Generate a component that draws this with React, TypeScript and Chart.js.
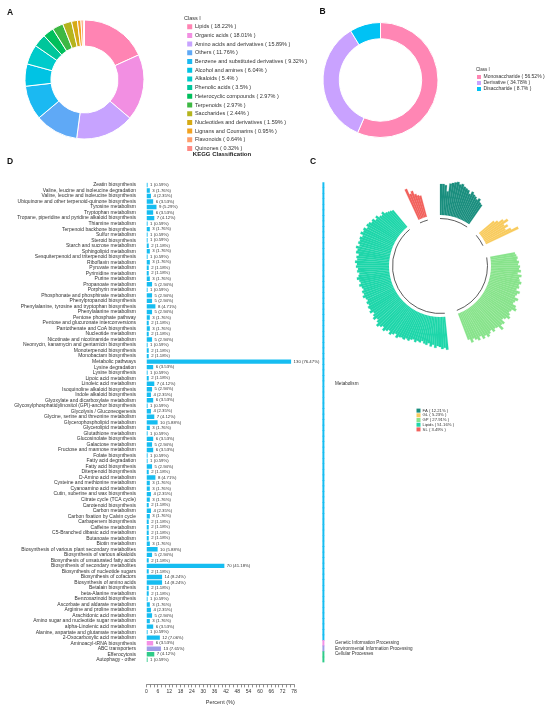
import React, { useEffect, useRef } from 'react';
import { Chart, registerables } from 'chart.js';

Chart.register(...registerables);

const FONT = '"Liberation Sans", Arial, Helvetica, sans-serif';
Chart.defaults.font.family = FONT;
Chart.defaults.color = '#333333';

// ---------------- Panel A : Class I (all metabolites) ----------------
const classALabels = [
  'Lipids', 'Organic acids', 'Amino acids and derivatives', 'Others',
  'Benzene and substituted derivatives', 'Alcohol and amines', 'Alkaloids',
  'Phenolic acids', 'Heterocyclic compounds', 'Terpenoids', 'Saccharides',
  'Nucleotides and derivatives', 'Lignans and Coumarins', 'Flavonoids', 'Quinones',
];
const classAValues = [18.22, 18.01, 15.89, 11.76, 9.32, 6.04, 5.4, 3.5, 2.97, 2.97, 2.44, 1.59, 0.95, 0.64, 0.32];
const classAColors = [
  '#FF84B3', '#F28FE2', '#C7A3FF', '#5FA9F6', '#1BB9F2', '#00C3E4', '#00CBCB',
  '#00C69B', '#00BF5C', '#3DB843', '#B4B41E', '#D6AA14', '#F2A220', '#FF9E6B', '#FF8A84',
];

// ---------------- Panel B : Class I (saccharides) ----------------
const classBLabels = ['Monosaccharide', 'Derivative', 'Disaccharide'];
const classBValues = [56.52, 34.78, 8.7];
const classBColors = ['#FF86B4', '#C9A2FF', '#00C2F4'];

// ---------------- Panel D : KEGG classification ----------------
const keggPathways = [
  'Zeatin biosynthesis',
  'Valine, leucine and isoleucine degradation',
  'Valine, leucine and isoleucine biosynthesis',
  'Ubiquinone and other terpenoid-quinone biosynthesis',
  'Tyrosine metabolism',
  'Tryptophan metabolism',
  'Tropane, piperidine and pyridine alkaloid biosynthesis',
  'Thiamine metabolism',
  'Terpenoid backbone biosynthesis',
  'Sulfur metabolism',
  'Steroid biosynthesis',
  'Starch and sucrose metabolism',
  'Sphingolipid metabolism',
  'Sesquiterpenoid and triterpenoid biosynthesis',
  'Riboflavin metabolism',
  'Pyruvate metabolism',
  'Pyrimidine metabolism',
  'Purine metabolism',
  'Propanoate metabolism',
  'Porphyrin metabolism',
  'Phosphonate and phosphinate metabolism',
  'Phenylpropanoid biosynthesis',
  'Phenylalanine, tyrosine and tryptophan biosynthesis',
  'Phenylalanine metabolism',
  'Pentose phosphate pathway',
  'Pentose and glucuronate interconversions',
  'Pantothenate and CoA biosynthesis',
  'Nucleotide metabolism',
  'Nicotinate and nicotinamide metabolism',
  'Neomycin, kanamycin and gentamicin biosynthesis',
  'Monoterpenoid biosynthesis',
  'Monobactam biosynthesis',
  'Metabolic pathways',
  'Lysine degradation',
  'Lysine biosynthesis',
  'Lipoic acid metabolism',
  'Linoleic acid metabolism',
  'Isoquinoline alkaloid biosynthesis',
  'Indole alkaloid biosynthesis',
  'Glyoxylate and dicarboxylate metabolism',
  'Glycosylphosphatidylinositol (GPI)-anchor biosynthesis',
  'Glycolysis / Gluconeogenesis',
  'Glycine, serine and threonine metabolism',
  'Glycerophospholipid metabolism',
  'Glycerolipid metabolism',
  'Glutathione metabolism',
  'Glucosinolate biosynthesis',
  'Galactose metabolism',
  'Fructose and mannose metabolism',
  'Folate biosynthesis',
  'Fatty acid degradation',
  'Fatty acid biosynthesis',
  'Diterpenoid biosynthesis',
  'D-Amino acid metabolism',
  'Cysteine and methionine metabolism',
  'Cyanoamino acid metabolism',
  'Cutin, suberine and wax biosynthesis',
  'Citrate cycle (TCA cycle)',
  'Carotenoid biosynthesis',
  'Carbon metabolism',
  'Carbon fixation by Calvin cycle',
  'Carbapenem biosynthesis',
  'Caffeine metabolism',
  'C5-Branched dibasic acid metabolism',
  'Butanoate metabolism',
  'Biotin metabolism',
  'Biosynthesis of various plant secondary metabolites',
  'Biosynthesis of various alkaloids',
  'Biosynthesis of unsaturated fatty acids',
  'Biosynthesis of secondary metabolites',
  'Biosynthesis of nucleotide sugars',
  'Biosynthesis of cofactors',
  'Biosynthesis of amino acids',
  'Betalain biosynthesis',
  'beta-Alanine metabolism',
  'Benzoxazinoid biosynthesis',
  'Ascorbate and aldarate metabolism',
  'Arginine and proline metabolism',
  'Arachidonic acid metabolism',
  'Amino sugar and nucleotide sugar metabolism',
  'alpha-Linolenic acid metabolism',
  'Alanine, aspartate and glutamate metabolism',
  '2-Oxocarboxylic acid metabolism',
  'Aminoacyl-tRNA biosynthesis',
  'ABC transporters',
  'Efferocytosis',
  'Autophagy - other',
];
const keggCounts = [
  1, 3, 4, 6, 9, 6, 7, 1, 3, 1,
  1, 2, 3, 1, 3, 2, 2, 3, 5, 1,
  5, 5, 8, 5, 3, 2, 3, 2, 5, 1,
  2, 2, 130, 6, 1, 2, 7, 5, 4, 6,
  1, 4, 7, 10, 3, 1, 6, 5, 6, 1,
  1, 5, 2, 8, 3, 3, 4, 3, 2, 4,
  3, 2, 2, 2, 2, 3, 10, 5, 2, 70,
  2, 14, 14, 2, 2, 1, 3, 4, 5, 3,
  6, 1, 12, 6, 13, 7, 1,
];
const keggPercents = [
  0.59, 1.76, 2.35, 3.53, 5.29, 3.53, 4.12, 0.59, 1.76, 0.59,
  0.59, 1.18, 1.76, 0.59, 1.76, 1.18, 1.18, 1.76, 2.94, 0.59,
  2.94, 2.94, 4.71, 2.94, 1.76, 1.18, 1.76, 1.18, 2.94, 0.59,
  1.18, 1.18, 76.47, 3.53, 0.59, 1.18, 4.12, 2.94, 2.35, 3.53,
  0.59, 2.35, 4.12, 5.88, 1.76, 0.59, 3.53, 2.94, 3.53, 0.59,
  0.59, 2.94, 1.18, 4.71, 1.76, 1.76, 2.35, 1.76, 1.18, 2.35,
  1.76, 1.18, 1.18, 1.18, 1.18, 1.76, 5.88, 2.94, 1.18, 41.18,
  1.18, 8.24, 8.24, 1.18, 1.18, 0.59, 1.76, 2.35, 2.94, 1.76,
  3.53, 0.59, 7.06, 3.53, 7.65, 4.12, 0.59,
];
const keggGroupNames = ['Metabolism', 'Genetic Information Processing', 'Environmental Information Processing', 'Cellular Processes'];
const keggGroupSizes = [83, 1, 1, 2];
const keggGroupLabelOffsets = [36, 0, 0, 0];
const keggGroupColors = ['#16BDF1', '#F490E6', '#A09DE7', '#2FCB89'];
const percentTickLabels = [0, 6, 12, 18, 24, 30, 36, 42, 48, 54, 60, 66, 72, 78];

// ---------------- Panel C : circular bar plot of lipid sub-classes ----------------
const cGroups = ['FA', 'GL', 'GP', 'Lipids', 'SL'];
const cPercents = [12.21, 5.23, 27.91, 51.16, 3.49];
const cColors = ['#1A8E7E', '#F8CB5E', '#88E38C', '#1ED6AA', '#F2615C'];
const faBars = [31, 31, 30, 24, 32, 33, 34, 35, 33, 34, 32, 31, 30, 27, 30, 28, 27, 25, 27, 24, 23];
const glBars = [19, 22, 27, 31, 25, 28, 24, 29, 36];
const gpBars = [
  25, 26, 27, 26, 28, 27, 29, 28, 30, 27,
  31, 29, 30, 32, 30, 31, 29, 33, 31, 30,
  34, 32, 31, 35, 37, 33, 32, 34, 36, 33,
  31, 35, 34, 38, 33, 32, 34, 31, 33, 35,
  32, 34, 30, 33, 31, 29, 32, 28,
];
const lipidBars = [
  33, 31, 32, 30, 29, 31, 28, 30, 27, 29, 28, 26, 28, 27, 29, 27, 28, 30, 29, 31, 30,
  31, 33, 30, 32, 34, 31, 33, 35, 32, 34, 36, 33, 31, 34, 32, 30, 33, 31, 32, 30, 31, 29, 30, 32,
  30, 31, 29, 30, 32, 30, 31, 33, 31, 30, 32, 31, 33, 32, 34, 32, 33, 31, 34, 33, 35, 32, 34, 33,
  34, 32, 35, 33, 34, 31, 33, 32, 30, 31, 28, 30, 27, 26, 28, 25, 24, 23, 22,
];
const slBars = [33, 27, 29, 25, 23, 22];
const cGroupBars = [faBars, glBars, gpBars, lipidBars, slBars];
const C_GAP = 9;
const C_RMIN = -51;
const C_RMAX = 39;

// ---------------- helpers ----------------
type MakeConfig = () => any;

function ChartCanvas(props: { left: number; top: number; width: number; height: number; make: MakeConfig }) {
  const ref = useRef<HTMLCanvasElement>(null);
  useEffect(() => {
    const chart = new Chart(ref.current as HTMLCanvasElement, props.make());
    return () => chart.destroy();
  }, []);
  return (
    <canvas
      ref={ref}
      width={props.width}
      height={props.height}
      style={{ position: 'absolute', left: props.left, top: props.top, width: props.width, height: props.height }}
    />
  );
}

const noTip = { enabled: false };

function makeDonut(values: number[], labels: string[], colors: string[], radius: number, cutout: number) {
  return () => ({
    type: 'doughnut',
    data: {
      labels,
      datasets: [{ data: values, backgroundColor: colors, borderColor: '#ffffff', borderWidth: 1 }],
    },
    options: {
      responsive: false,
      animation: false,
      devicePixelRatio: 1,
      radius,
      cutout,
      layout: { padding: 0 },
      plugins: { tooltip: noTip, legend: { display: false } },
    },
  });
}

// A legend-only chart: one empty dataset per legend entry, legend drawn by Chart.js
function makeLegend(
  texts: string[],
  colors: string[],
  o: { title?: string; titleSize?: number; titleTop?: number; titleBottom?: number; font: number; box: number; padding: number }
) {
  return () => ({
    type: 'bar',
    data: {
      labels: [],
      datasets: texts.map((t, i) => ({ label: t, data: [], backgroundColor: colors[i], borderWidth: 0 })),
    },
    options: {
      responsive: false,
      animation: false,
      devicePixelRatio: 1,
      layout: { padding: 0 },
      scales: { x: { display: false }, y: { display: false } },
      plugins: {
        tooltip: noTip,
        legend: {
          position: 'left',
          align: 'start',
          title: o.title
            ? {
                display: true,
                text: o.title,
                position: 'start',
                color: '#333',
                font: { size: o.titleSize, lineHeight: 1 },
                padding: { top: o.titleTop, bottom: o.titleBottom },
              }
            : { display: false },
          labels: { boxWidth: o.box, boxHeight: o.box, padding: o.padding, color: '#333', font: { size: o.font } },
        },
      },
    },
  });
}

function makeKegg() {
  const rowGroup: number[] = [];
  keggGroupSizes.forEach((n, g) => {
    for (let k = 0; k < n; k++) rowGroup.push(g);
  });
  const rowColors = rowGroup.map((g) => keggGroupColors[g]);
  const groupTickLabels = keggPathways.map(() => '');
  let start = 0;
  keggGroupSizes.forEach((n, g) => {
    groupTickLabels[start + keggGroupLabelOffsets[g]] = keggGroupNames[g];
    start += n;
  });
  const groupLine = keggPathways.map(() => [93.2, 93.9]);

  const valueLabels = {
    id: 'valueLabels',
    afterDatasetsDraw(chart: any) {
      const meta = chart.getDatasetMeta(0);
      const ctx = chart.ctx;
      ctx.save();
      ctx.font = `4.3px ${FONT}`;
      ctx.fillStyle = '#333';
      ctx.textBaseline = 'middle';
      ctx.textAlign = 'left';
      meta.data.forEach((bar: any, i: number) => {
        ctx.fillText(`${keggCounts[i]} (${keggPercents[i].toFixed(2)}%)`, bar.x + 2.5, bar.y);
      });
      ctx.restore();
    },
  };

  return {
    type: 'bar',
    data: {
      labels: keggPathways,
      datasets: [
        { data: keggPercents, backgroundColor: rowColors, barPercentage: 0.8, categoryPercentage: 1, grouped: false, borderWidth: 0 },
        { data: groupLine, backgroundColor: rowColors, barPercentage: 1, categoryPercentage: 1, grouped: false, borderWidth: 0 },
      ],
    },
    options: {
      indexAxis: 'y',
      responsive: false,
      animation: false,
      devicePixelRatio: 1,
      layout: { padding: { top: 0, bottom: 2.1, left: 0, right: 0 } },
      scales: {
        x: { display: false, min: 0, max: 94.66 },
        y: {
          position: 'left',
          grid: { display: false },
          border: { display: false },
          ticks: { autoSkip: false, padding: 2.5, color: '#333', font: { size: 5 } },
          afterFit: (s: any) => { s.width = 146.5; },
        },
        y2: {
          type: 'category',
          labels: groupTickLabels,
          position: 'right',
          offset: true,
          grid: { display: false },
          border: { display: false },
          ticks: { autoSkip: false, padding: 1.5, color: '#333', font: { size: 4.6 } },
          afterFit: (s: any) => { s.width = 444 - 325.5; },
        },
      },
      plugins: {
        legend: { display: false },
        tooltip: noTip,
        title: {
          display: true,
          text: 'KEGG Classification',
          color: '#222',
          font: { size: 6, weight: 'bold' },
          padding: { top: 2.4, bottom: 24.6 },
        },
      },
    },
    plugins: [valueLabels],
  };
}

function makePercentAxis() {
  const minor: number[] = [];
  for (let v = 0; v <= 78; v += 2) minor.push(v);
  return {
    type: 'line',
    data: { datasets: [] },
    options: {
      responsive: false,
      animation: false,
      devicePixelRatio: 1,
      layout: { padding: { top: 8, bottom: 5.7, left: 16.5, right: 48 } },
      scales: {
        x: {
          type: 'linear',
          min: 0,
          max: 78,
          afterBuildTicks: (s: any) => { s.ticks = minor.map((v) => ({ value: v })); },
          ticks: {
            autoSkip: false,
            maxRotation: 0,
            padding: 1,
            color: '#333',
            font: { size: 5 },
            callback: (v: number) => (percentTickLabels.includes(v) ? String(v) : ''),
          },
          grid: { display: true, drawOnChartArea: false, drawTicks: true, tickLength: 3, color: '#444', lineWidth: 0.6 },
          border: { display: true, color: '#444', width: 0.6 },
        },
        y: { display: false, min: 0, max: 1 },
      },
      plugins: {
        legend: { display: false },
        tooltip: noTip,
        title: { display: true, position: 'bottom', text: 'Percent (%)', color: '#333', font: { size: 5.5, weight: 'normal' }, padding: { top: 3.7, bottom: 0 } },
      },
    },
  };
}

function makeCircular() {
  const values: number[] = [];
  const colors: string[] = [];
  const labels: string[] = [];
  cGroupBars.forEach((bars, g) => {
    bars.forEach((v) => { values.push(v); colors.push(cColors[g]); labels.push(cGroups[g]); });
    for (let k = 0; k < C_GAP; k++) { values.push(C_RMIN); colors.push('rgba(0,0,0,0)'); labels.push(''); }
  });

  const innerRing = {
    id: 'innerRing',
    afterDatasetsDraw(chart: any) {
      const r = chart.scales.r;
      const meta = chart.getDatasetMeta(0);
      const ctx = chart.ctx;
      const base = r.getDistanceFromCenterForValue(0);
      ctx.save();
      ctx.fillStyle = '#ffffff';
      ctx.beginPath();
      ctx.arc(r.xCenter, r.yCenter, base, 0, Math.PI * 2);
      ctx.fill();
      ctx.strokeStyle = '#4a4a4a';
      ctx.lineWidth = 0.9;
      let idx = 0;
      cGroupBars.forEach((bars) => {
        const first = meta.data[idx];
        const last = meta.data[idx + bars.length - 1];
        ctx.beginPath();
        ctx.arc(r.xCenter, r.yCenter, base - 3.5, first.startAngle, last.endAngle);
        ctx.stroke();
        idx += bars.length + C_GAP;
      });
      ctx.restore();
    },
  };

  return {
    type: 'polarArea',
    data: { labels, datasets: [{ data: values, backgroundColor: colors, borderColor: colors, borderWidth: 0.2 }] },
    options: {
      responsive: false,
      animation: false,
      devicePixelRatio: 1,
      layout: { padding: 0 },
      scales: { r: { display: false, min: C_RMIN, max: C_RMAX, startAngle: 0 } },
      plugins: { legend: { display: false }, tooltip: noTip },
    },
    plugins: [innerRing],
  };
}

const legendATexts = classALabels.map((l, i) => `${l} ( ${classAValues[i]}% )`);
const legendBTexts = classBLabels.map((l, i) => `${l} ( ${classBValues[i]}% )`);
const legendCTexts = cGroups.map((g, i) => `${g} ( ${cPercents[i]}% )`);

const makeDonutA = makeDonut(classAValues, classALabels, classAColors, 59.5, 44.5);
const makeDonutB = makeDonut(classBValues, classBLabels, classBColors, 57.5, 43);
const makeLegendA = makeLegend(legendATexts, classAColors, { title: 'Class I', titleSize: 5.5, titleTop: 15.25, titleBottom: 0, font: 5.5, box: 5, padding: 3.2 });
const makeLegendB = makeLegend(legendBTexts, classBColors, { title: 'Class I', titleSize: 4.5, titleTop: 67.5, titleBottom: 1.5, font: 5, box: 4, padding: 1 });
const makeLegendC = makeLegend(legendCTexts, cColors, { font: 4.2, box: 4, padding: 0.5 });

const letterStyle = (left: number, top: number): React.CSSProperties => ({
  position: 'absolute',
  left,
  top,
  fontFamily: FONT,
  fontWeight: 'bold',
  fontSize: 8.5,
  lineHeight: '8.5px',
  color: '#111',
});

export default function App() {
  return (
    <div style={{ position: 'absolute', left: 0, top: 0, width: 550, height: 711, overflow: 'hidden', background: '#ffffff' }}>
      <ChartCanvas left={0} top={0} width={169} height={159} make={makeDonutA} />
      <ChartCanvas left={184} top={0} width={300} height={159} make={makeLegendA} />
      <ChartCanvas left={320} top={0} width={121} height={160} make={makeDonutB} />
      <ChartCanvas left={476} top={0} width={180} height={160} make={makeLegendB} />
      <ChartCanvas left={0} top={148} width={444} height={520} make={makeKegg} />
      <ChartCanvas left={130} top={676} width={212} height={35} make={makePercentAxis} />
      <ChartCanvas left={350} top={176} width={180} height={180} make={makeCircular} />
      <ChartCanvas left={416} top={408} width={130} height={30} make={makeLegendC} />
      <div style={letterStyle(7, 7.9)}>A</div>
      <div style={letterStyle(319.5, 7.2)}>B</div>
      <div style={letterStyle(7, 156.6)}>D</div>
      <div style={letterStyle(310, 156.6)}>C</div>
    </div>
  );
}
